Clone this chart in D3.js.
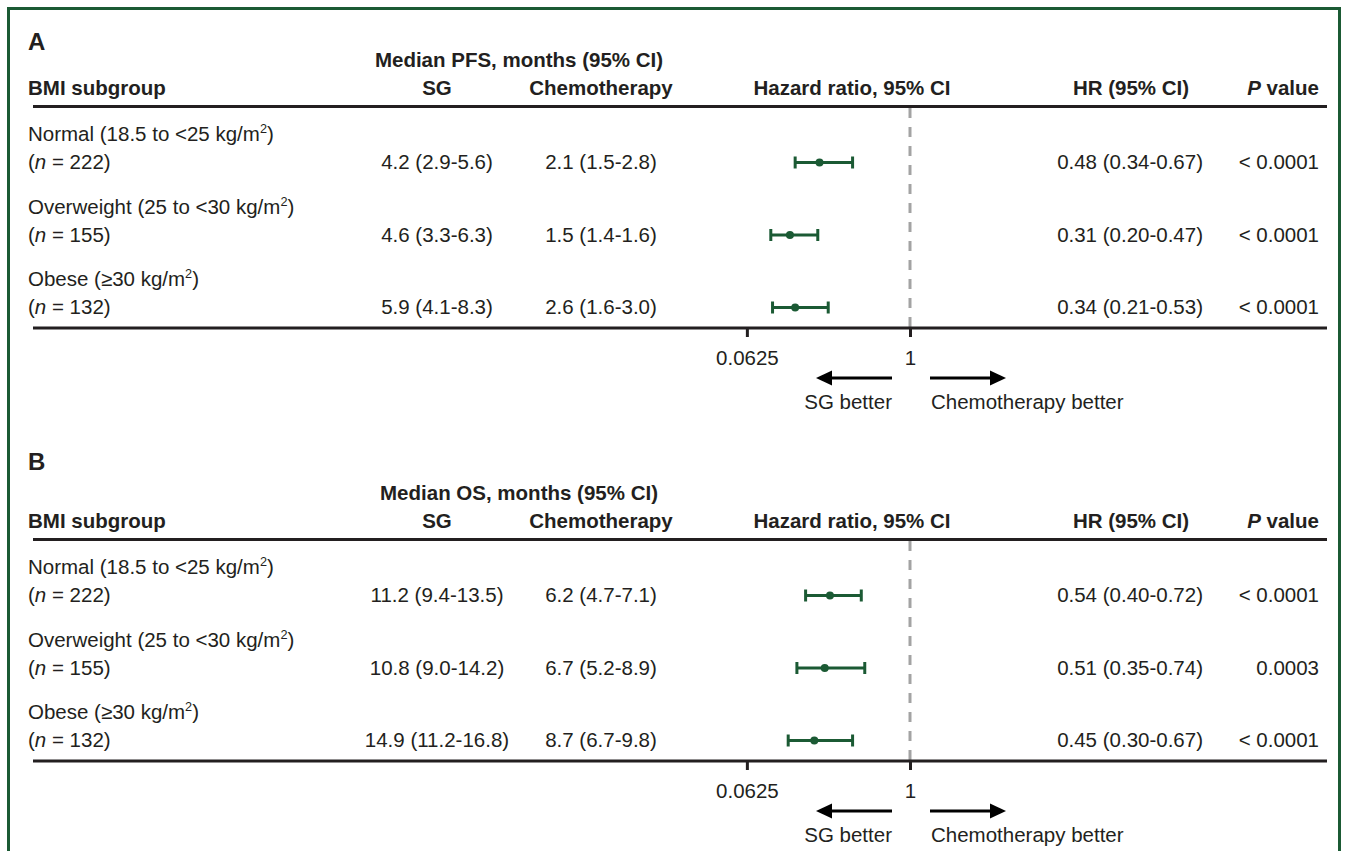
<!DOCTYPE html>
<html>
<head>
<meta charset="utf-8">
<script src="https://cdn.jsdelivr.net/npm/d3@7"></script>
<style>
  html, body { margin: 0; padding: 0; background: #fff; }
  svg { display: block; }
  text { font-family: "Liberation Sans", Arial, Helvetica, sans-serif; fill: #231f20; }
</style>
</head>
<body>
<svg id="chart" width="1346" height="851"></svg>
<script>
// ---------- DATA ----------
const panelLetters = ["A", "B"];
const endpointTitles = ["Median PFS, months (95% CI)", "Median OS, months (95% CI)"];
const subgroupLabels = ["Normal (18.5 to <25 kg/m", "Overweight (25 to <30 kg/m", "Obese (\u226530 kg/m"];
const subgroupN = [222, 155, 132];

// Panel A: PFS
const sgPFS    = [[4.2, 2.9, 5.6], [4.6, 3.3, 6.3], [5.9, 4.1, 8.3]];
const chemoPFS = [[2.1, 1.5, 2.8], [1.5, 1.4, 1.6], [2.6, 1.6, 3.0]];
const hrPFS    = [0.48, 0.31, 0.34];
const hrLoPFS  = [0.34, 0.20, 0.21];
const hrHiPFS  = [0.67, 0.47, 0.53];
const pPFS     = ["< 0.0001", "< 0.0001", "< 0.0001"];

// Panel B: OS
const sgOS     = [[11.2, 9.4, 13.5], [10.8, 9.0, 14.2], [14.9, 11.2, 16.8]];
const chemoOS  = [[6.2, 4.7, 7.1], [6.7, 5.2, 8.9], [8.7, 6.7, 9.8]];
const hrOS     = [0.54, 0.51, 0.45];
const hrLoOS   = [0.40, 0.35, 0.30];
const hrHiOS   = [0.72, 0.74, 0.67];
const pOS      = ["< 0.0001", "0.0003", "< 0.0001"];

const tickValues = [0.0625, 1];
const tickLabels = ["0.0625", "1"];

// ---------- LAYOUT ----------
const svg = d3.select("#chart");
const FS = 20.5;
const green = "#1b5a34";
const ink = "#231f20";

// border (left, top, right)
svg.append("path")
  .attr("d", "M8.5,851 L8.5,8.5 L1339.5,8.5 L1339.5,851")
  .attr("fill", "none").attr("stroke", green).attr("stroke-width", 3);

const x = d3.scaleLinear().domain([0, 1]).range([736, 910]);

const fmt = a => `${a[0].toFixed(1)} (${a[1].toFixed(1)}-${a[2].toFixed(1)})`;
const fmt2 = (h, l, u) => `${h.toFixed(2)} (${l.toFixed(2)}-${u.toFixed(2)})`;

const panels = [
  { letter: panelLetters[0], title: endpointTitles[0], sg: sgPFS, ch: chemoPFS, hr: hrPFS, lo: hrLoPFS, hi: hrHiPFS, p: pPFS, dy: 0, letterY: 50 },
  { letter: panelLetters[1], title: endpointTitles[1], sg: sgOS, ch: chemoOS, hr: hrOS, lo: hrLoOS, hi: hrHiOS, p: pOS, dy: 433, letterY: 470 - 433 }
];

const rowStep = 72.5;
const row0 = 169;

panels.forEach(P => {
  const g = svg.append("g").attr("transform", `translate(0,${P.dy})`);

  g.append("text").attr("x", 28).attr("y", P.letterY)
    .attr("font-size", 24).attr("font-weight", "bold").text(P.letter);

  g.append("text").attr("x", 519).attr("y", 67).attr("text-anchor", "middle")
    .attr("font-size", FS).attr("font-weight", "bold").text(P.title);

  const hy = 95;
  g.append("text").attr("x", 28).attr("y", hy).attr("font-size", FS).attr("font-weight", "bold").text("BMI subgroup");
  g.append("text").attr("x", 437).attr("y", hy).attr("text-anchor", "middle").attr("font-size", FS).attr("font-weight", "bold").text("SG");
  g.append("text").attr("x", 601).attr("y", hy).attr("text-anchor", "middle").attr("font-size", FS).attr("font-weight", "bold").text("Chemotherapy");
  g.append("text").attr("x", 852).attr("y", hy).attr("text-anchor", "middle").attr("font-size", FS).attr("font-weight", "bold").text("Hazard ratio, 95% CI");
  g.append("text").attr("x", 1131).attr("y", hy).attr("text-anchor", "middle").attr("font-size", FS).attr("font-weight", "bold").text("HR (95% CI)");
  const pv = g.append("text").attr("x", 1319).attr("y", hy).attr("text-anchor", "end").attr("font-size", FS).attr("font-weight", "bold");
  pv.append("tspan").attr("font-style", "italic").text("P");
  pv.append("tspan").text(" value");

  // header rule
  g.append("line").attr("x1", 33).attr("x2", 1327).attr("y1", 106.5).attr("y2", 106.5)
    .attr("stroke", ink).attr("stroke-width", 3);

  // reference dashed line at HR = 1
  g.append("line").attr("x1", x(1)).attr("x2", x(1)).attr("y1", 108).attr("y2", 327)
    .attr("stroke", "#a3a3a3").attr("stroke-width", 3).attr("stroke-dasharray", "10,9");

  subgroupLabels.forEach((lab, i) => {
    const yb = row0 + i * rowStep;
    const t1 = g.append("text").attr("x", 28).attr("y", yb - 28).attr("font-size", FS);
    t1.append("tspan").text(lab);
    t1.append("tspan").attr("font-size", FS * 0.62).attr("dy", -8).text("2");
    t1.append("tspan").attr("dy", 8).text(")");

    const t2 = g.append("text").attr("x", 28).attr("y", yb).attr("font-size", FS);
    t2.append("tspan").text("(");
    t2.append("tspan").attr("font-style", "italic").text("n");
    t2.append("tspan").text(` = ${subgroupN[i]})`);

    g.append("text").attr("x", 437).attr("y", yb).attr("text-anchor", "middle").attr("font-size", FS).text(fmt(P.sg[i]));
    g.append("text").attr("x", 601).attr("y", yb).attr("text-anchor", "middle").attr("font-size", FS).text(fmt(P.ch[i]));
    g.append("text").attr("x", 1203).attr("y", yb).attr("text-anchor", "end").attr("font-size", FS).text(fmt2(P.hr[i], P.lo[i], P.hi[i]));
    g.append("text").attr("x", 1319).attr("y", yb).attr("text-anchor", "end").attr("font-size", FS).text(P.p[i]);

    const cy = yb - 6.5;
    g.append("line").attr("x1", x(P.lo[i])).attr("x2", x(P.hi[i])).attr("y1", cy).attr("y2", cy)
      .attr("stroke", green).attr("stroke-width", 3);
    [P.lo[i], P.hi[i]].forEach(v => {
      g.append("line").attr("x1", x(v)).attr("x2", x(v)).attr("y1", cy - 6).attr("y2", cy + 6)
        .attr("stroke", green).attr("stroke-width", 3);
    });
    g.append("circle").attr("cx", x(P.hr[i])).attr("cy", cy).attr("r", 4).attr("fill", green);
  });

  // axis
  const ay = 328;
  g.append("line").attr("x1", 33).attr("x2", 1327).attr("y1", ay).attr("y2", ay)
    .attr("stroke", ink).attr("stroke-width", 3);
  const axis = d3.axisBottom(x).tickValues(tickValues).tickSize(9).tickPadding(13)
    .tickFormat((d, i) => tickLabels[i]);
  const ag = g.append("g").attr("transform", `translate(0,${ay})`).call(axis);
  ag.select(".domain").remove();
  ag.selectAll(".tick line").attr("stroke", ink).attr("stroke-width", 3);
  ag.selectAll(".tick text").attr("font-size", FS).attr("fill", ink)
    .attr("font-family", '"Liberation Sans", Arial, sans-serif');

  // arrows
  const ary = 378;
  g.append("line").attr("x1", 892).attr("x2", 829).attr("y1", ary).attr("y2", ary).attr("stroke", "#000").attr("stroke-width", 3);
  g.append("path").attr("d", `M816,${ary} L832,${ary - 7.5} L832,${ary + 7.5} Z`).attr("fill", "#000");
  g.append("line").attr("x1", 930).attr("x2", 993).attr("y1", ary).attr("y2", ary).attr("stroke", "#000").attr("stroke-width", 3);
  g.append("path").attr("d", `M1006,${ary} L990,${ary - 7.5} L990,${ary + 7.5} Z`).attr("fill", "#000");

  g.append("text").attr("x", 892).attr("y", 409).attr("text-anchor", "end").attr("font-size", FS).text("SG better");
  g.append("text").attr("x", 931).attr("y", 409).attr("font-size", FS).text("Chemotherapy better");
});
</script>
</body>
</html>
